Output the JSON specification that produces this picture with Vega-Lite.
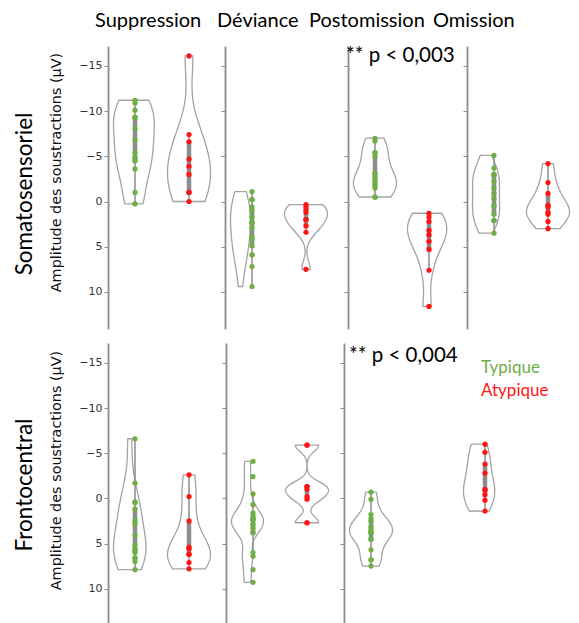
{
"$schema": "https://vega.github.io/schema/vega-lite/v6.json",
"background": "white",
"padding": {"left": 14, "top": 11, "right": 2, "bottom": 0},
"datasets": {
"S_Suppression": [
{"group":"Typique","amp":-11.2},{"group":"Typique","amp":-10.9},{"group":"Typique","amp":-10.1},{"group":"Typique","amp":-9.3},{"group":"Typique","amp":-9.3},{"group":"Typique","amp":-9.3},{"group":"Typique","amp":-8.1},{"group":"Typique","amp":-6.8},{"group":"Typique","amp":-5.4},{"group":"Typique","amp":-4.8},{"group":"Typique","amp":-4.8},{"group":"Typique","amp":-4.5},{"group":"Typique","amp":-3.6},{"group":"Typique","amp":-1.0},{"group":"Typique","amp":0.25},{"group":"Typique","amp":0.25},
{"group":"Atypique","amp":-16.1},{"group":"Atypique","amp":-7.4},{"group":"Atypique","amp":-6.6},{"group":"Atypique","amp":-4.7},{"group":"Atypique","amp":-3.9},{"group":"Atypique","amp":-3.0},{"group":"Atypique","amp":-1.0},{"group":"Atypique","amp":-1.0},{"group":"Atypique","amp":0.0}],
"S_Deviance": [
{"group":"Typique","amp":-1.1},{"group":"Typique","amp":-0.2},{"group":"Typique","amp":-0.2},{"group":"Typique","amp":0.6},{"group":"Typique","amp":1.0},{"group":"Typique","amp":1.7},{"group":"Typique","amp":2.3},{"group":"Typique","amp":2.3},{"group":"Typique","amp":2.9},{"group":"Typique","amp":3.9},{"group":"Typique","amp":4.2},{"group":"Typique","amp":4.9},{"group":"Typique","amp":5.9},{"group":"Typique","amp":5.9},{"group":"Typique","amp":7.2},{"group":"Typique","amp":9.4},
{"group":"Atypique","amp":0.35},{"group":"Atypique","amp":0.55},{"group":"Atypique","amp":0.85},{"group":"Atypique","amp":1.2},{"group":"Atypique","amp":2.0},{"group":"Atypique","amp":2.0},{"group":"Atypique","amp":2.7},{"group":"Atypique","amp":3.4},{"group":"Atypique","amp":7.5}],
"S_Postomission": [
{"group":"Typique","amp":-7.0},{"group":"Typique","amp":-6.7},{"group":"Typique","amp":-5.4},{"group":"Typique","amp":-5.4},{"group":"Typique","amp":-5.0},{"group":"Typique","amp":-3.1},{"group":"Typique","amp":-3.1},{"group":"Typique","amp":-2.7},{"group":"Typique","amp":-2.4},{"group":"Typique","amp":-2.1},{"group":"Typique","amp":-1.8},{"group":"Typique","amp":-1.5},{"group":"Typique","amp":-0.5},{"group":"Typique","amp":-0.5},{"group":"Typique","amp":-0.5},
{"group":"Atypique","amp":1.3},{"group":"Atypique","amp":1.7},{"group":"Atypique","amp":2.2},{"group":"Atypique","amp":3.2},{"group":"Atypique","amp":3.7},{"group":"Atypique","amp":4.4},{"group":"Atypique","amp":5.3},{"group":"Atypique","amp":7.6},{"group":"Atypique","amp":11.6}],
"S_Omission": [
{"group":"Typique","amp":-5.1},{"group":"Typique","amp":-3.7},{"group":"Typique","amp":-3.0},{"group":"Typique","amp":-3.0},{"group":"Typique","amp":-2.9},{"group":"Typique","amp":-2.2},{"group":"Typique","amp":-1.5},{"group":"Typique","amp":-0.9},{"group":"Typique","amp":-0.3},{"group":"Typique","amp":0.5},{"group":"Typique","amp":0.5},{"group":"Typique","amp":1.4},{"group":"Typique","amp":2.1},{"group":"Typique","amp":2.1},{"group":"Typique","amp":2.1},{"group":"Typique","amp":3.5},
{"group":"Atypique","amp":-4.2},{"group":"Atypique","amp":-2.1},{"group":"Atypique","amp":-0.9},{"group":"Atypique","amp":0.4},{"group":"Atypique","amp":0.6},{"group":"Atypique","amp":1.2},{"group":"Atypique","amp":1.4},{"group":"Atypique","amp":2.2},{"group":"Atypique","amp":3.0}],
"F_Suppression": [
{"group":"Typique","amp":-6.6},{"group":"Typique","amp":-1.7},{"group":"Typique","amp":0.4},{"group":"Typique","amp":0.5},{"group":"Typique","amp":1.2},{"group":"Typique","amp":2.4},{"group":"Typique","amp":2.8},{"group":"Typique","amp":4.1},{"group":"Typique","amp":5.2},{"group":"Typique","amp":5.7},{"group":"Typique","amp":5.7},{"group":"Typique","amp":6.0},{"group":"Typique","amp":6.6},{"group":"Typique","amp":6.6},{"group":"Typique","amp":7.0},{"group":"Typique","amp":7.9},
{"group":"Atypique","amp":-2.6},{"group":"Atypique","amp":-0.2},{"group":"Atypique","amp":2.5},{"group":"Atypique","amp":5.4},{"group":"Atypique","amp":5.6},{"group":"Atypique","amp":6.2},{"group":"Atypique","amp":6.2},{"group":"Atypique","amp":7.1},{"group":"Atypique","amp":7.8}],
"F_Deviance": [
{"group":"Typique","amp":-4.1},{"group":"Typique","amp":-2.4},{"group":"Typique","amp":-0.5},{"group":"Typique","amp":0.7},{"group":"Typique","amp":1.6},{"group":"Typique","amp":2.0},{"group":"Typique","amp":2.3},{"group":"Typique","amp":2.3},{"group":"Typique","amp":2.4},{"group":"Typique","amp":2.9},{"group":"Typique","amp":3.3},{"group":"Typique","amp":3.8},{"group":"Typique","amp":3.8},{"group":"Typique","amp":6.0},{"group":"Typique","amp":6.4},{"group":"Typique","amp":7.9},{"group":"Typique","amp":9.3},
{"group":"Atypique","amp":-5.9},{"group":"Atypique","amp":-5.9},{"group":"Atypique","amp":-1.3},{"group":"Atypique","amp":-1.3},{"group":"Atypique","amp":-1.0},{"group":"Atypique","amp":-0.2},{"group":"Atypique","amp":0.1},{"group":"Atypique","amp":2.7},{"group":"Atypique","amp":2.7}],
"F_Postomission": [
{"group":"Typique","amp":-0.7},{"group":"Typique","amp":0.1},{"group":"Typique","amp":1.8},{"group":"Typique","amp":2.2},{"group":"Typique","amp":2.5},{"group":"Typique","amp":3.1},{"group":"Typique","amp":3.4},{"group":"Typique","amp":3.7},{"group":"Typique","amp":3.75},{"group":"Typique","amp":3.8},{"group":"Typique","amp":4.5},{"group":"Typique","amp":4.5},{"group":"Typique","amp":5.7},{"group":"Typique","amp":6.8},{"group":"Typique","amp":6.8},{"group":"Typique","amp":7.5},
{"group":"Atypique","amp":-6.0},{"group":"Atypique","amp":-5.1},{"group":"Atypique","amp":-3.8},{"group":"Atypique","amp":-2.8},{"group":"Atypique","amp":-1.0},{"group":"Atypique","amp":-0.9},{"group":"Atypique","amp":-0.4},{"group":"Atypique","amp":0.2},{"group":"Atypique","amp":1.4}]
},
"spacing": -284,
"vconcat": [
{
"title": {"text": "Somatosensoriel", "orient": "left", "anchor": "middle", "frame": "bounds", "fontSize": 22.5, "offset": 12, "dx": -24},
"spacing": -24,
"hconcat": [
{"spacing": 1, "hconcat": [
{
"title": {"text": "Suppression", "dx": -13},
"data": {"name": "S_Suppression"},
"facet": {"column": {"field": "group", "type": "nominal", "header": null, "sort": ["Typique", "Atypique"]}},
"spacing": 0,
"spec": {
"width": 54, "height": 283,
"encoding": {"y": {"field": "amp", "type": "quantitative", "title": "Amplitude des soustractions (µV)", "scale": {"domain": [-17.2, 14.1], "reverse": true, "nice": false, "zero": false}, "axis": {"values": [-15, -10, -5, 0, 5, 10], "titleY": 126, "titlePadding": 15}}},
"layer": [
{"transform": [{"density": "amp", "groupby": ["group"], "as": ["amp", "density"], "resolve": "independent"}],
 "mark": {"type": "area", "orient": "horizontal", "fillOpacity": 0, "stroke": "#a3a3a3", "strokeWidth": 1.3},
 "encoding": {"x": {"field": "density", "type": "quantitative", "stack": "center", "impute": null, "axis": null, "scale": {"nice": false, "zero": false, "padding": 5.5}}}},
{"mark": {"type": "boxplot", "extent": 1.5, "size": 4.5, "outliers": false, "ticks": false, "box": {"color": "#8c8c8c"}, "median": {"color": "#8c8c8c"}, "rule": {"color": "#8c8c8c", "strokeWidth": 1.5}},
 "encoding": {"detail": {"field": "group"}}},
{"mark": {"type": "circle", "size": 27, "opacity": 1},
 "encoding": {"color": {"field": "group", "type": "nominal", "title": null, "scale": {"domain": ["Typique", "Atypique"], "range": ["#6fae47", "#ff1414"]}, "legend": {"orient": "none", "legendX": 356, "legendY": 313, "symbolOpacity": 0, "symbolSize": 0, "labelFont": "Lato", "labelFontSize": 17, "labelOffset": 0, "rowPadding": 5, "encode": {"labels": {"update": {"fill": {"scale": "color", "field": "value"}}}}}}}}
]
}
},
{
"title": {"text": "Déviance", "dx": -8},
"data": {"name": "S_Deviance"},
"facet": {"column": {"field": "group", "type": "nominal", "header": null, "sort": ["Typique", "Atypique"]}},
"spacing": 0,
"spec": {
"width": 54, "height": 283,
"encoding": {"y": {"field": "amp", "type": "quantitative", "title": null, "scale": {"domain": [-17.2, 14.1], "reverse": true, "nice": false, "zero": false}, "axis": {"values": [-15, -10, -5, 0, 5, 10], "labels": false}}},
"layer": [
{"transform": [{"density": "amp", "groupby": ["group"], "as": ["amp", "density"], "resolve": "independent"}],
 "mark": {"type": "area", "orient": "horizontal", "fillOpacity": 0, "stroke": "#a3a3a3", "strokeWidth": 1.3},
 "encoding": {"x": {"field": "density", "type": "quantitative", "stack": "center", "impute": null, "axis": null, "scale": {"nice": false, "zero": false, "padding": 5.5}}}},
{"mark": {"type": "boxplot", "extent": 1.5, "size": 4.5, "outliers": false, "ticks": false, "box": {"color": "#8c8c8c"}, "median": {"color": "#8c8c8c"}, "rule": {"color": "#8c8c8c", "strokeWidth": 1.5}},
 "encoding": {"detail": {"field": "group"}}},
{"mark": {"type": "circle", "size": 27, "opacity": 1},
 "encoding": {"color": {"field": "group", "type": "nominal", "title": null}}}
]
}
}
]},
{"spacing": -23, "hconcat": [
{
"title": {"text": "Postomission", "dx": -39},
"data": {"name": "S_Postomission"},
"facet": {"column": {"field": "group", "type": "nominal", "header": null, "sort": ["Typique", "Atypique"]}},
"spacing": 0,
"spec": {
"width": 54, "height": 283,
"encoding": {"y": {"field": "amp", "type": "quantitative", "title": null, "scale": {"domain": [-17.2, 14.1], "reverse": true, "nice": false, "zero": false}, "axis": {"values": [-15, -10, -5, 0, 5, 10], "labels": false}}},
"layer": [
{"transform": [{"density": "amp", "groupby": ["group"], "as": ["amp", "density"], "resolve": "independent"}],
 "mark": {"type": "area", "orient": "horizontal", "fillOpacity": 0, "stroke": "#a3a3a3", "strokeWidth": 1.3},
 "encoding": {"x": {"field": "density", "type": "quantitative", "stack": "center", "impute": null, "axis": null, "scale": {"nice": false, "zero": false, "padding": 5.5}}}},
{"mark": {"type": "boxplot", "extent": 1.5, "size": 4.5, "outliers": false, "ticks": false, "box": {"color": "#8c8c8c"}, "median": {"color": "#8c8c8c"}, "rule": {"color": "#8c8c8c", "strokeWidth": 1.5}},
 "encoding": {"detail": {"field": "group"}}},
{"mark": {"type": "circle", "size": 27, "opacity": 1},
 "encoding": {"color": {"field": "group", "type": "nominal", "title": null}}}
]
}
},
{
"title": {"text": "Omission", "dx": -34},
"data": {"name": "S_Omission"},
"facet": {"column": {"field": "group", "type": "nominal", "header": null, "sort": ["Typique", "Atypique"]}},
"spacing": 0,
"spec": {
"width": 54, "height": 283,
"encoding": {"y": {"field": "amp", "type": "quantitative", "title": null, "scale": {"domain": [-17.2, 14.1], "reverse": true, "nice": false, "zero": false}, "axis": {"values": [-15, -10, -5, 0, 5, 10], "labels": false}}},
"layer": [
{"transform": [{"density": "amp", "groupby": ["group"], "as": ["amp", "density"], "resolve": "independent"}],
 "mark": {"type": "area", "orient": "horizontal", "fillOpacity": 0, "stroke": "#a3a3a3", "strokeWidth": 1.3},
 "encoding": {"x": {"field": "density", "type": "quantitative", "stack": "center", "impute": null, "axis": null, "scale": {"nice": false, "zero": false, "padding": 5.5}}}},
{"mark": {"type": "boxplot", "extent": 1.5, "size": 4.5, "outliers": false, "ticks": false, "box": {"color": "#8c8c8c"}, "median": {"color": "#8c8c8c"}, "rule": {"color": "#8c8c8c", "strokeWidth": 1.5}},
 "encoding": {"detail": {"field": "group"}}},
{"mark": {"type": "circle", "size": 27, "opacity": 1},
 "encoding": {"color": {"field": "group", "type": "nominal", "title": null}}}
]
}
}
]}
]
},
{
"title": {"text": "Frontocentral", "orient": "left", "anchor": "middle", "frame": "group", "fontSize": 22.5, "offset": 12, "dx": -142},
"spacing": 5,
"hconcat": [
{
"data": {"name": "F_Suppression"},
"facet": {"column": {"field": "group", "type": "nominal", "header": null, "sort": ["Typique", "Atypique"]}},
"spacing": 0,
"spec": {
"width": 54, "height": 280,
"encoding": {"y": {"field": "amp", "type": "quantitative", "title": "Amplitude des soustractions (µV)", "scale": {"domain": [-17.2, 13.8], "reverse": true, "nice": false, "zero": false}, "axis": {"values": [-15, -10, -5, 0, 5, 10], "titleY": 127, "titlePadding": 15}}},
"layer": [
{"transform": [{"density": "amp", "groupby": ["group"], "as": ["amp", "density"], "resolve": "independent"}],
 "mark": {"type": "area", "orient": "horizontal", "fillOpacity": 0, "stroke": "#a3a3a3", "strokeWidth": 1.3},
 "encoding": {"x": {"field": "density", "type": "quantitative", "stack": "center", "impute": null, "axis": null, "scale": {"nice": false, "zero": false, "padding": 5.5}}}},
{"mark": {"type": "boxplot", "extent": 1.5, "size": 4.5, "outliers": false, "ticks": false, "box": {"color": "#8c8c8c"}, "median": {"color": "#8c8c8c"}, "rule": {"color": "#8c8c8c", "strokeWidth": 1.5}},
 "encoding": {"detail": {"field": "group"}}},
{"mark": {"type": "circle", "size": 27, "opacity": 1},
 "encoding": {"color": {"field": "group", "type": "nominal", "title": null}}}
]
}
},
{
"data": {"name": "F_Deviance"},
"facet": {"column": {"field": "group", "type": "nominal", "header": null, "sort": ["Typique", "Atypique"]}},
"spacing": 0,
"spec": {
"width": 54, "height": 280,
"encoding": {"y": {"field": "amp", "type": "quantitative", "title": null, "scale": {"domain": [-17.2, 13.8], "reverse": true, "nice": false, "zero": false}, "axis": {"values": [-15, -10, -5, 0, 5, 10], "labels": false}}},
"layer": [
{"transform": [{"density": "amp", "groupby": ["group"], "as": ["amp", "density"], "resolve": "independent"}],
 "mark": {"type": "area", "orient": "horizontal", "fillOpacity": 0, "stroke": "#a3a3a3", "strokeWidth": 1.3},
 "encoding": {"x": {"field": "density", "type": "quantitative", "stack": "center", "impute": null, "axis": null, "scale": {"nice": false, "zero": false, "padding": 5.5}}}},
{"mark": {"type": "boxplot", "extent": 1.5, "size": 4.5, "outliers": false, "ticks": false, "box": {"color": "#8c8c8c"}, "median": {"color": "#8c8c8c"}, "rule": {"color": "#8c8c8c", "strokeWidth": 1.5}},
 "encoding": {"detail": {"field": "group"}}},
{"mark": {"type": "circle", "size": 27, "opacity": 1},
 "encoding": {"color": {"field": "group", "type": "nominal", "title": null}}}
]
}
},
{
"data": {"name": "F_Postomission"},
"facet": {"column": {"field": "group", "type": "nominal", "header": null, "sort": ["Typique", "Atypique"]}},
"spacing": 0,
"spec": {
"width": 54, "height": 280,
"encoding": {"y": {"field": "amp", "type": "quantitative", "title": null, "scale": {"domain": [-17.2, 13.8], "reverse": true, "nice": false, "zero": false}, "axis": {"values": [-15, -10, -5, 0, 5, 10], "labels": false}}},
"layer": [
{"transform": [{"density": "amp", "groupby": ["group"], "as": ["amp", "density"], "resolve": "independent"}],
 "mark": {"type": "area", "orient": "horizontal", "fillOpacity": 0, "stroke": "#a3a3a3", "strokeWidth": 1.3},
 "encoding": {"x": {"field": "density", "type": "quantitative", "stack": "center", "impute": null, "axis": null, "scale": {"nice": false, "zero": false, "padding": 5.5}}}},
{"mark": {"type": "boxplot", "extent": 1.5, "size": 4.5, "outliers": false, "ticks": false, "box": {"color": "#8c8c8c"}, "median": {"color": "#8c8c8c"}, "rule": {"color": "#8c8c8c", "strokeWidth": 1.5}},
 "encoding": {"detail": {"field": "group"}}},
{"mark": {"type": "circle", "size": 27, "opacity": 1},
 "encoding": {"color": {"field": "group", "type": "nominal", "title": null}}},
{"transform": [{"filter": {"and": [{"field": "group", "equal": "Typique"}, {"field": "amp", "equal": -0.7}]}}],
 "mark": {"type": "text", "align": "left", "baseline": "middle", "xOffset": -25, "font": "Lato", "fontSize": 20.5, "fill": "#000000"},
 "encoding": {"y": {"datum": -48.98}, "text": {"value": "** p < 0,003"}}},
{"transform": [{"filter": {"and": [{"field": "group", "equal": "Typique"}, {"field": "amp", "equal": -0.7}]}}],
 "mark": {"type": "text", "align": "left", "baseline": "middle", "xOffset": -22, "font": "Lato", "fontSize": 20.5, "fill": "#000000"},
 "encoding": {"y": {"datum": -15.8}, "text": {"value": "** p < 0,004"}}}
]
}
}
]
}
],
"config": {
"view": {"stroke": null},
"font": "Lato",
"title": {"font": "Lato", "fontSize": 20, "fontWeight": "normal", "color": "#000000", "anchor": "start", "frame": "group", "offset": 15},
"axis": {"grid": false, "domainColor": "#8c8c8c", "domainWidth": 1.8, "tickColor": "#8c8c8c", "tickSize": 4, "tickWidth": 1, "labelFont": "DejaVu Sans", "labelFontSize": 11, "labelColor": "#333333", "labelPadding": 2, "titleFont": "DejaVu Sans", "titleFontSize": 14.4, "titleFontWeight": "normal", "titleColor": "#111111"}
}
}
